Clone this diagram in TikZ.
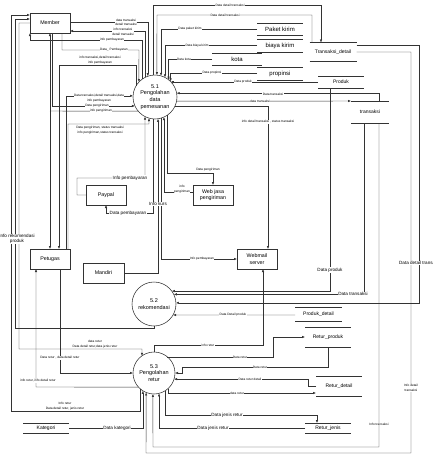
\documentclass[tikz,border=0pt]{standalone}
\usepackage{fontspec}
\setmainfont{Liberation Sans}
\usetikzlibrary{arrows.meta}
\begin{document}
\begin{tikzpicture}[x=1pt,y=-1pt,
  flow/.style={draw=black!80, line width=0.45pt},
  arr/.style={flow, -{Latex[length=3pt,width=2.4pt]}},
  ent/.style={draw=black!80, line width=0.55pt, minimum width=40pt, minimum height=20pt, inner sep=0pt, outer sep=0pt, font=\fontsize{5.3}{6.3}\selectfont, align=center},
  proc/.style={circle, draw=black!80, line width=0.55pt, minimum size=44pt, inner sep=0pt, outer sep=0pt, font=\fontsize{5.5}{6.8}\selectfont, align=center},
  store/.style={inner sep=0pt, outer sep=0pt, font=\fontsize{5}{6}\selectfont},
  bigstore/.style={store, font=\fontsize{6}{7}\selectfont},
  lbl/.style={fill=white, inner sep=0.3pt, font=\fontsize{3.2}{4.4}\selectfont, align=center},
  blbl/.style={fill=white, inner sep=0.4pt, font=\fontsize{4.6}{5.6}\selectfont, align=center},
]
\useasboundingbox (0,0) rectangle (432,456);
\fill[white] (0,0) rectangle (432,456);
\clip (0,0) rectangle (432,456);

% ---------- external entities ----------
\node[ent] (member)  at (50,23)  {Member};
\node[ent] (paypal)  at (106,195) {Paypal};
\node[ent] (webjasa) at (213,195) {Web jasa\\pengiriman};
\node[ent] (petugas) at (50,259) {Petugas};
\node[ent, minimum width=41pt] (mandiri) at (103.5,273) {Mandiri};
\node[ent] (webmail) at (257,259) {Webmail\\server};

% ---------- processes ----------
\node[proc] (p1) at (155,97) {5.1\\Pengolahan\\data\\pemesanan};
\node[proc] (p2) at (154,304) {5.2\\rekomendasi};
\node[proc, minimum size=42pt] (p3) at (154,373) {5.3\\Pengolahan\\retur};

% ---------- data stores ----------
\node[bigstore, minimum width=46pt, minimum height=12pt] (paket) at (280,29) {Paket kirim};
\node[bigstore, minimum width=46pt, minimum height=13pt] (biaya) at (280,45.5) {biaya kirim};
\node[bigstore, minimum width=50pt, minimum height=12pt] (kota) at (237,59) {kota};
\node[bigstore, minimum width=46pt, minimum height=13pt] (prop) at (280,73.5) {propinsi};
\node[store, minimum width=46pt, minimum height=12pt] (produk) at (341,82) {Produk};
\node[store, minimum width=47pt, minimum height=19pt] (tdet) at (333,52) {Transaksi\_detail};
\node[store, minimum width=38pt, minimum height=22pt] (trans) at (370,112) {transaksi};
\node[store, minimum width=47pt, minimum height=14pt] (pdet) at (318.5,314.5) {Produk\_detail};
\node[store, minimum width=46pt, minimum height=20pt] (rprod) at (328,337) {Retur\_produk};
\node[store, minimum width=46pt, minimum height=20pt] (rdet) at (339,386) {Retur\_detail};
\node[store, minimum width=46pt, minimum height=10pt] (rjen) at (328,428) {Retur\_jenis};
\node[store, minimum width=46pt, minimum height=10pt] (kat) at (46,428) {Kategori};
\foreach \s in {paket,biaya,kota,prop,produk,tdet,trans,pdet,rprod,rdet,rjen,kat}
  \draw[flow] (\s.north west) -- (\s.north east) (\s.south west) -- (\s.south east);

% ---------- flows around 5.1 (stores) ----------
\draw[arr] (p1.95) |- (321,5) -- (tdet.north -| 321,0);
\draw[arr] (tdet.north -| 312,0) |- (157,15) -- (p1.85);
\draw[arr] (paket.west) -| (p1.74);
\draw[arr] (biaya.west) -| (p1.63);
\draw[arr] (kota.west) -| (p1.52);
\draw[arr] (prop.west) -| (p1.45);
\draw[arr] (produk.west) -| (p1.36);
\draw[arr] (trans.north -| 379,0) |- (p1.10);
\draw[arr] (p1.-11) -- (trans.north west);
\draw[arr] (p1.-25) -| (webmail.north -| 268,0);

% ---------- flows around 5.1 (Member, Petugas) ----------
\draw[arr] (member.east |- 0,22) -| (p1.109);
\draw[arr] (p1.117) |- (member.east |- 0,31);
\draw[arr] (p1.126) |- (30,40) -- (member.south west);
\draw[arr] (member.south -| 62,0) |- (139,50) -- (p1.137);
\draw[arr] (p1.150) |- (59,65) -- (petugas.north -| 59,0);
\draw[arr] (petugas.north -| 66,0) |- (p1.177);
\draw[arr] (member.south -| 52,0) |- (p1.204);
\draw[flow] (p1.220) -- (50,111);
\draw[arr] (50,111) -- (member.south -| 50,0);
\draw[arr] (50,111) -- (petugas.north -| 50,0);
\draw[arr] (petugas.north -| 68,0) |- (149,124) -- (p1.-106);

% ---------- flows below 5.1 ----------
\draw[arr] (paypal.west) -- (77,195) |- (145,178) -- (p1.-117);
\draw[arr] (p1.-95) |- (106,213) -- (paypal.south -| 106,0);
\draw[arr] (mandiri.east) -| (p1.-82);
\draw[arr] (p1.-74) |- (webmail.west);
\draw[arr] (webjasa.west |- 0,192) -| (p1.-66);
\draw[arr] (p1.-57) |- (213,173) -- (webjasa.north -| 213,0);

% ---------- flows around 5.2 ----------
\draw[arr] (produk.south -| 330,0) |- (p2.36);
\draw[arr] (trans.south -| 364,0) |- (p2.26);
\draw[arr] (tdet.east |- 0,45) -- (419,45) |- (p2.3);
\draw[arr] (pdet.west |- 0,315) -- (p2.-30);
\draw[arr] (p2.south) |- (15,328) |- (member.west |- 0,19);

% ---------- flows around 5.3 ----------
\draw[arr] (p3.north) |- (263,345) -- (webmail.south -| 263,0);
\draw[arr] (member.west) -- (19,23) |- (142,349) -- (p3.125);
\draw[arr] (p3.-132) |- (11,411) |- (member.west |- 0,15);
\draw[arr] (kat.east) -| (p3.-122);
\draw[arr] (petugas.south -| 60,0) |- (p3.west);
\draw[arr] (p3.222) -- (36,387) -- (petugas.south -| 36,0);
\draw[arr] (p3.50) -| (273,337) -- (rprod.west);
\draw[arr] (rprod.south) |- (182,367) |- (p3.east);
\draw[arr] (rdet.west) -- (308,386) |- (p3.-17);
\draw[arr] (p3.-48) |- (rdet.west |- 0,393);
\draw[arr] (p3.-58) |- (317,415) -- (rjen.north -| 317,0);
\draw[arr] (rjen.west) -| (p3.-76);
\draw[arr] (trans.south -| 379,0) |- (153,447) -- (p3.-93);
\draw[arr] (tdet.east) -- (411,52) |- (146,453) -- (p3.-112);

% ---------- flow labels ----------
\node[lbl] (t1) at (230,5) {Data detail transaksi};
\node[lbl] (t2) at (225,15) {Data detail transaksi};
\node[lbl] (t3) at (190,29) {Data paket kirim};
\node[lbl] (t4) at (197,46) {Data biaya kirim};
\node[lbl] (t5) at (184,59) {Data kota};
\node[lbl] (t6) at (212,73) {Data propinsi};
\node[lbl] (t7) at (243,82) {Data produk};
\node[lbl] (t8) at (273,94) {Data transaksi};
\node[lbl] (t9) at (260,101.2) {data transaksi};
\node[lbl] (t10) at (268,122) {info detail transaksi , status transaksi};

\node[lbl] (m1) at (126,22.5) {data transaksi\\detail transaksi};
\node[lbl] (m2) at (123,32) {info transaksi\\detail transaksi};
\node[lbl] (m3) at (112,39.5) {info pembayaran};
\node[lbl] (m4) at (114,50) {Data\_ Pembayaran};
\node[lbl] (m5) at (100,60) {info transaksi,detail transaksi\\info pembayaran};
\node[lbl] (m6) at (99,98) {Data transaksi,detail transaksi,data\\info pembayaran};
\node[lbl] (m7) at (97,106) {Data pengiriman};
\node[lbl] (m8) at (101,111) {info pengiriman};
\node[lbl] (m9) at (100,130) {Data pengiriman, status transaksi\\info pengiriman,status transaksi};

\node[blbl] (b1) at (130,178) {Info pembayaran};
\node[blbl] (b2) at (128,213) {Data pembayaran};
\node[blbl] (b3) at (158,204) {Info kurs};
\node[lbl] (b4) at (202,259) {Info pembayaran};
\node[lbl] (b5) at (182,189) {info\\pengiriman};
\node[lbl] (b6) at (208,170) {Data pengiriman};

\node[blbl] (r1) at (330,270) {Data produk};
\node[blbl] (r2) at (353,294) {Data transaksi};
\node[blbl] (r3) at (420,263) {Data detail transaksi};
\node[lbl] (r4) at (233,315) {Data Detail produk};
\node[blbl] (r5) at (17,239) {Info rekomendasi\\produk};

\node[lbl] (s1) at (208,345) {info retur};
\node[lbl, anchor=south] (s2) at (95,348.5) {data retur\\Data detail retur,data jenis retur};
\node[lbl, anchor=south] (s3) at (65,410.5) {Info retur\\Data detail retur, jenis retur};
\node[blbl] (s4) at (117,428) {Data kategori};
\node[lbl] (s5) at (60,358) {Data retur , data detail retur};
\node[lbl] (s6) at (38,381) {info retur, info detail retur};
\node[lbl] (s7) at (240,357) {Data retur};
\node[lbl] (s8) at (260,367) {Data retur};
\node[lbl] (s9) at (250,379) {Data retur detail};
\node[lbl] (s10) at (237,393) {data retur};
\node[blbl] (s11) at (227,415) {Data jenis retur};
\node[blbl] (s12) at (213,428) {Data jenis retur};
\node[lbl] (s13) at (379,424) {Info transaksi};
\node[lbl] (s14) at (411,388) {Info detail\\transaksi};
\end{tikzpicture}
\end{document}
